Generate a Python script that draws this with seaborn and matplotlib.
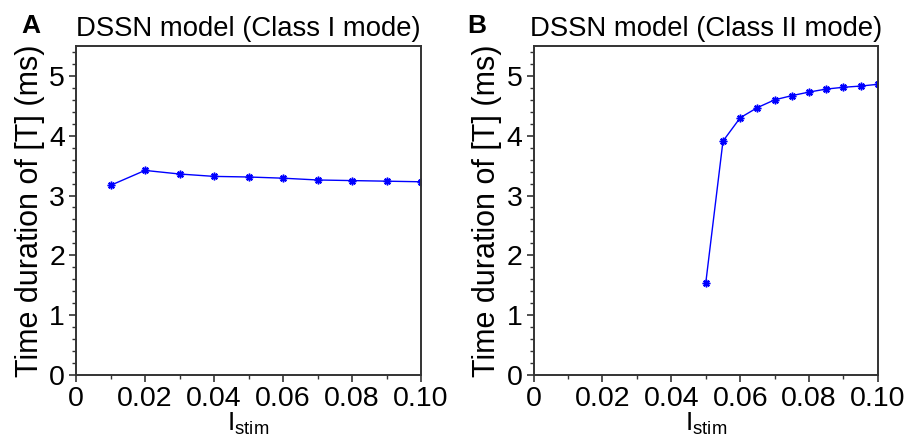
import matplotlib
matplotlib.use("Agg")
import matplotlib.pyplot as plt
import seaborn as sns
import pandas as pd
from matplotlib.ticker import MultipleLocator, FixedLocator

sns.set_style("ticks")
plt.rcParams['font.family'] = ['Liberation Sans', 'DejaVu Sans']
plt.rcParams['mathtext.fontset'] = 'custom'
plt.rcParams['mathtext.rm'] = 'Liberation Sans'
plt.rcParams['mathtext.it'] = 'Liberation Sans'
plt.rcParams['text.color'] = 'black'
plt.rcParams['axes.labelcolor'] = 'black'
plt.rcParams['xtick.labelcolor'] = 'black'
plt.rcParams['ytick.labelcolor'] = 'black'

# Panel A data (Class I mode)
istim_a = [0.01, 0.02, 0.03, 0.04, 0.05, 0.06, 0.07, 0.08, 0.09, 0.10]
dur_a = [3.17, 3.42, 3.36, 3.32, 3.31, 3.29, 3.26, 3.25, 3.24, 3.23]

# Panel B data (Class II mode)
istim_b = [0.05, 0.055, 0.06, 0.065, 0.07, 0.075, 0.08, 0.085, 0.09, 0.095, 0.10]
dur_b = [1.54, 3.91, 4.30, 4.47, 4.60, 4.67, 4.73, 4.78, 4.81, 4.83, 4.86]

xticks = [0, 0.02, 0.04, 0.06, 0.08, 0.10]
xticklabels = ["0", "0.02", "0.04", "0.06", "0.08", "0.10"]
yticks = [0, 1, 2, 3, 4, 5]

titles = ["DSSN model (Class I mode)", "DSSN model (Class II mode)"]
panel_labels = ["A", "B"]

fig = plt.figure(figsize=(9.06, 4.41), dpi=100)
ax_a = fig.add_axes([0.0839, 0.1497, 0.3808, 0.746])
ax_b = fig.add_axes([0.589, 0.1497, 0.380, 0.746])
label_x = [0.024, 0.516]

datasets = [(istim_a, dur_a), (istim_b, dur_b)]
for ax, (xs, ys), title, pl, lx in zip([ax_a, ax_b], datasets, titles, panel_labels, label_x):
    df = pd.DataFrame({"x": xs, "y": ys})
    sns.lineplot(data=df, x="x", y="y", ax=ax, color="#0000ff", marker=(8, 2, 0),
                 markersize=5.5, linewidth=1.0, markeredgecolor="#0000ff",
                 markeredgewidth=1.1)
    ax.set_xlim(0, 0.10)
    ax.set_ylim(0, 5.5)
    ax.xaxis.set_major_locator(FixedLocator(xticks))
    ax.set_xticklabels(xticklabels)
    ax.xaxis.set_minor_locator(MultipleLocator(0.01))
    ax.yaxis.set_major_locator(FixedLocator(yticks))
    ax.yaxis.set_minor_locator(MultipleLocator(0.2))
    ax.tick_params(axis="both", which="major", labelsize=20.5, length=5, width=1.2,
                   color="#333333", pad=3)
    ax.tick_params(axis="both", which="minor", length=3, width=1.0, color="#333333")
    for s in ax.spines.values():
        s.set_visible(True)
        s.set_linewidth(1.4)
        s.set_color("#333333")
    ax.set_xlabel("I$_{\\mathrm{stim}}$", fontsize=19, labelpad=-1)
    ax.set_ylabel("Time duration of [T] (ms)", fontsize=22, labelpad=3)
    ax.set_title(title, fontsize=19.8, pad=7)
    fig.text(lx, 0.913, pl, fontsize=19, fontweight="bold", va="bottom")

fig.savefig("out.png", dpi=100)
